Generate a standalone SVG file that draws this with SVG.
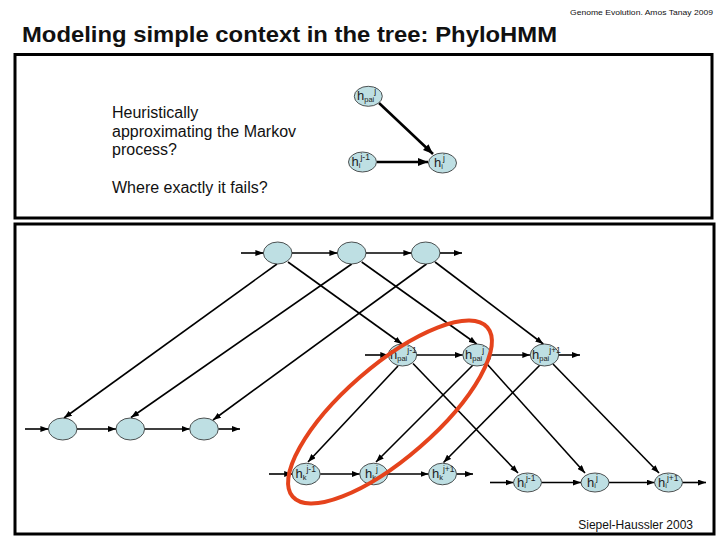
<svg xmlns="http://www.w3.org/2000/svg" width="720" height="540" viewBox="0 0 720 540">
<defs>
<style>
.frame{fill:none;stroke:#000;stroke-width:3}
.nd{fill:#BEDFE3;stroke:#2a2a2a;stroke-width:0.8}
.lb{font-family:"Liberation Sans",Arial,sans-serif;font-size:13px;fill:#222}
.sub{font-size:7.5px}
.sup{font-size:8.5px}
.e{stroke:#000;stroke-width:1.6;fill:none;marker-end:url(#ah)}
.et{stroke:#000;stroke-width:2.6;fill:none;marker-end:url(#ahb)}
.txt{font-family:"Liberation Sans",Arial,sans-serif;fill:#111}
</style>
<marker id="ah" markerUnits="userSpaceOnUse" markerWidth="8" markerHeight="6" refX="8" refY="3" orient="auto"><path d="M0,0 L8,3 L0,6 z" fill="#000"/></marker>
<marker id="ahb" markerUnits="userSpaceOnUse" markerWidth="10" markerHeight="8" refX="10" refY="4" orient="auto"><path d="M0,0 L10,4 L0,8 z" fill="#000"/></marker>
</defs>
<rect width="720" height="540" fill="#fff"/>
<text class="txt" x="570" y="15" font-size="8" textLength="143" lengthAdjust="spacingAndGlyphs">Genome Evolution. Amos Tanay 2009</text>
<text class="txt" x="22" y="42" font-size="22" font-weight="bold" fill="#000" textLength="535" lengthAdjust="spacingAndGlyphs">Modeling simple context in the tree: PhyloHMM</text>
<rect class="frame" x="15" y="54.5" width="697" height="163.5"/>
<rect class="frame" x="15" y="224" width="699" height="310"/>
<g id="question" class="txt" font-size="16">
<text x="112" y="118.3">Heuristically</text>
<text x="112" y="136.7">approximating the Markov</text>
<text x="112" y="155.2">process?</text>
<text x="112" y="193.3">Where exactly it fails?</text>
</g>
<g id="connectors">
<line class="et" x1="379" y1="103" x2="433" y2="154"/>
<line class="et" x1="377" y1="162" x2="428" y2="162"/>
<line class="e" x1="241" y1="253" x2="263.4" y2="253"/>
<line class="e" x1="292" y1="253" x2="337.4" y2="253"/>
<line class="e" x1="366" y1="253" x2="411.4" y2="253"/>
<line class="e" x1="440" y1="253" x2="462" y2="253"/>
<line class="e" x1="25" y1="429" x2="48.4" y2="429"/>
<line class="e" x1="77" y1="429" x2="116" y2="429"/>
<line class="e" x1="144.6" y1="429" x2="189.7" y2="429"/>
<line class="e" x1="218.3" y1="429" x2="240" y2="429"/>
<line class="e" x1="365" y1="355" x2="388.3" y2="355"/>
<line class="e" x1="416.7" y1="355" x2="462.8" y2="355"/>
<line class="e" x1="491.2" y1="355" x2="530.3" y2="355"/>
<line class="e" x1="558.7" y1="355" x2="580" y2="355"/>
<line class="e" x1="269" y1="474" x2="292.2" y2="474"/>
<line class="e" x1="320.2" y1="474" x2="359.7" y2="474"/>
<line class="e" x1="387.7" y1="474" x2="428.5" y2="474"/>
<line class="e" x1="456.5" y1="474" x2="473" y2="474"/>
<line class="e" x1="490" y1="482.5" x2="513.5" y2="482.5"/>
<line class="e" x1="541.5" y1="482.5" x2="581" y2="482.5"/>
<line class="e" x1="609" y1="482.5" x2="654.5" y2="482.5"/>
<line class="e" x1="682.5" y1="482.5" x2="706" y2="482.5"/>
<line class="e" x1="277" y1="264" x2="64" y2="418"/>
<line class="e" x1="351.7" y1="264" x2="131" y2="417.5"/>
<line class="e" x1="426.5" y1="264" x2="213" y2="420"/>
<line class="e" x1="288" y1="262" x2="402" y2="344"/>
<line class="e" x1="361.7" y1="262" x2="476.7" y2="344"/>
<line class="e" x1="435" y1="262" x2="543.3" y2="344"/>
<line class="e" x1="398" y1="366" x2="308" y2="462"/>
<line class="e" x1="473" y1="365" x2="376" y2="462"/>
<line class="e" x1="540" y1="365" x2="443.5" y2="462.5"/>
<line class="e" x1="413" y1="363.5" x2="518" y2="473"/>
<line class="e" x1="487" y1="364" x2="585" y2="473"/>
<line class="e" x1="553" y1="364" x2="659" y2="473"/>
</g>
<g id="top_pai">
<ellipse class="nd" cx="368.3" cy="96.3" rx="14" ry="10"/>
<text class="lb" x="357" y="100">h<tspan class="sub" dy="1.5">pai</tspan><tspan class="sup" dy="-7.5">j</tspan></text>
</g>
<g id="top_i_jm1">
<ellipse class="nd" cx="362.5" cy="162" rx="14" ry="10"/>
<text class="lb" x="351.5" y="166">h<tspan class="sub" dy="1.5">i</tspan><tspan class="sup" dy="-7.5">j-1</tspan></text>
</g>
<g id="top_i_j">
<ellipse class="nd" cx="442.5" cy="163" rx="14" ry="10"/>
<text class="lb" x="434" y="167">h<tspan class="sub" dy="1.5">i</tspan><tspan class="sup" dy="-7.5">j</tspan></text>
</g>
<g id="t1"><ellipse class="nd" cx="277.7" cy="253" rx="14.3" ry="11"/></g>
<g id="t2"><ellipse class="nd" cx="351.7" cy="253" rx="14.3" ry="11"/></g>
<g id="t3"><ellipse class="nd" cx="425.7" cy="253" rx="14.3" ry="11"/></g>
<g id="b1"><ellipse class="nd" cx="62.7" cy="429" rx="14.3" ry="11"/></g>
<g id="b2"><ellipse class="nd" cx="130.3" cy="429" rx="14.3" ry="11"/></g>
<g id="b3"><ellipse class="nd" cx="204" cy="429" rx="14.3" ry="11"/></g>
<g id="pai_jm1">
<ellipse class="nd" cx="402.5" cy="355" rx="14.2" ry="11"/>
<text class="lb" x="390" y="359">h<tspan class="sub" dy="1.5">pai</tspan><tspan class="sup" dy="-7.5">j-1</tspan></text>
</g>
<g id="pai_j">
<ellipse class="nd" cx="477" cy="355" rx="14.2" ry="11"/>
<text class="lb" x="465" y="359">h<tspan class="sub" dy="1.5">pai</tspan><tspan class="sup" dy="-7.5">j</tspan></text>
</g>
<g id="pai_jp1">
<ellipse class="nd" cx="544.5" cy="355" rx="14.2" ry="11"/>
<text class="lb" x="532" y="359">h<tspan class="sub" dy="1.5">pai</tspan><tspan class="sup" dy="-7.5">j+1</tspan></text>
</g>
<g id="k_jm1">
<ellipse class="nd" cx="306.2" cy="474" rx="14" ry="10.8"/>
<text class="lb" x="295.5" y="478">h<tspan class="sub" dy="1.5">k</tspan><tspan class="sup" dy="-7.5">j-1</tspan></text>
</g>
<g id="k_j">
<ellipse class="nd" cx="373.7" cy="474" rx="14" ry="10.8"/>
<text class="lb" x="365" y="478">h<tspan class="sub" dy="1.5">k</tspan><tspan class="sup" dy="-7.5">j</tspan></text>
</g>
<g id="k_jp1">
<ellipse class="nd" cx="442.5" cy="474" rx="14" ry="10.8"/>
<text class="lb" x="432" y="478">h<tspan class="sub" dy="1.5">k</tspan><tspan class="sup" dy="-7.5">j+1</tspan></text>
</g>
<g id="i_jm1">
<ellipse class="nd" cx="527.5" cy="482.5" rx="14" ry="9.5"/>
<text class="lb" x="517" y="486.5">h<tspan class="sub" dy="1.5">i</tspan><tspan class="sup" dy="-7.5">j-1</tspan></text>
</g>
<g id="i_j">
<ellipse class="nd" cx="595" cy="482.5" rx="14" ry="9.5"/>
<text class="lb" x="587" y="486.5">h<tspan class="sub" dy="1.5">i</tspan><tspan class="sup" dy="-7.5">j</tspan></text>
</g>
<g id="i_jp1">
<ellipse class="nd" cx="668.5" cy="482.5" rx="14" ry="9.5"/>
<text class="lb" x="658" y="486.5">h<tspan class="sub" dy="1.5">i</tspan><tspan class="sup" dy="-7.5">j+1</tspan></text>
</g>
<g id="highlight">
<ellipse cx="390" cy="412" rx="129" ry="46" transform="rotate(-41 390 412)" fill="none" stroke="#E5431C" stroke-width="4"/>
</g>
<text class="txt" x="693" y="529" font-size="12" text-anchor="end">Siepel-Haussler 2003</text>
</svg>
